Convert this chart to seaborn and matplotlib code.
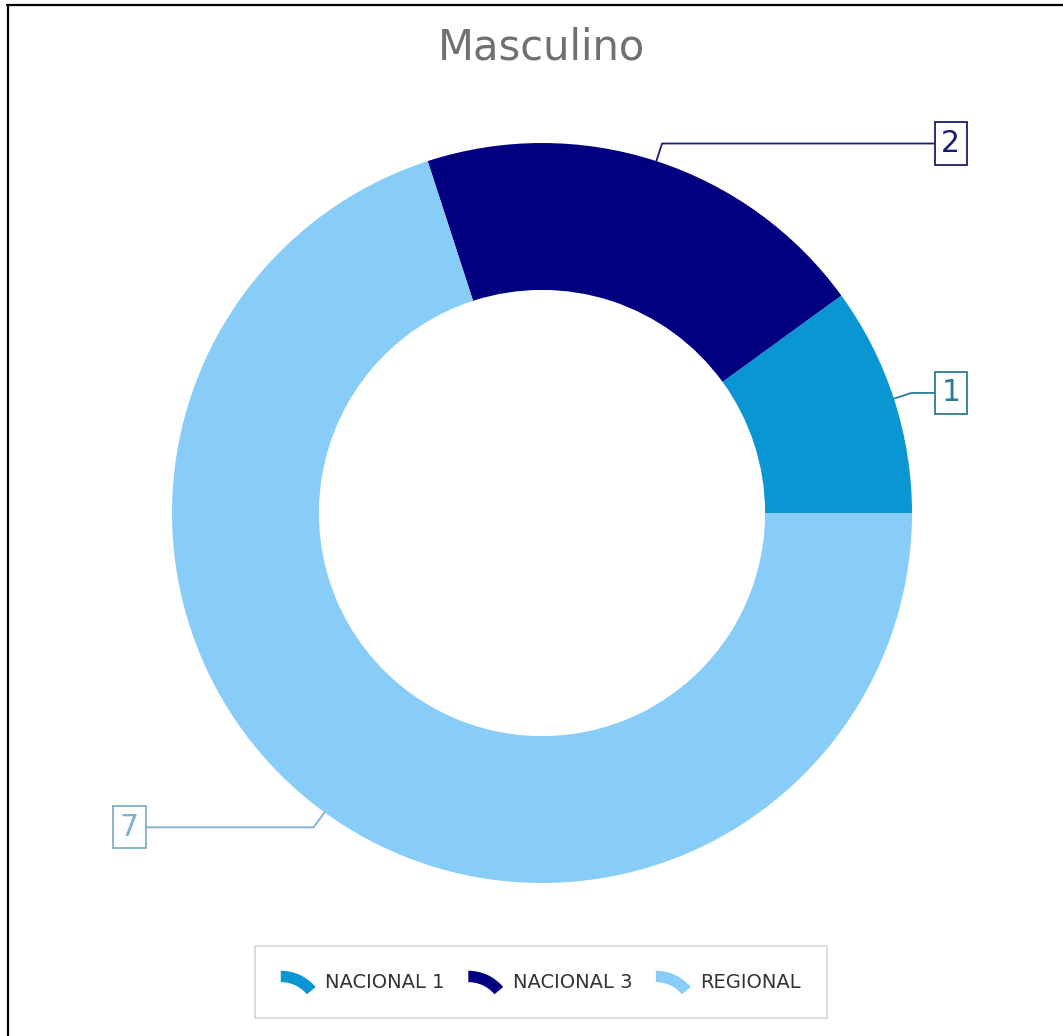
import numpy as np
import matplotlib
matplotlib.use("Agg")
import matplotlib.pyplot as plt
from matplotlib.patches import Wedge
from matplotlib.legend_handler import HandlerPatch
from matplotlib.lines import Line2D
import seaborn as sns

# Data
categories = ["NACIONAL 1", "NACIONAL 3", "REGIONAL"]
values = [1, 2, 7]
slice_colors = ["#0996D3", "#000080", "#87CDF8"]
label_colors = ["#2E7A98", "#1C1C6E", "#7FB0CC"]
title = "Masculino"

sns.set_theme(style="white")
plt.rcParams["font.family"] = ["DejaVu Sans"]

W, H = 1063, 1036
fig = plt.figure(figsize=(W / 100, H / 100), dpi=100)
fig.patch.set_facecolor("white")

# Donut axes: centre (542, 513) px from top-left, radius 370 px
cx, cy, R = 542, 513, 370
ax = fig.add_axes([(cx - R) / W, (H - cy - R) / H, 2 * R / W, 2 * R / H])
ax.set_facecolor("none")

wedges, _ = ax.pie(values, colors=slice_colors, startangle=0, counterclock=True,
                   radius=1.0, wedgeprops=dict(width=0.397, edgecolor="none"))
ax.set_xlim(-1, 1)
ax.set_ylim(-1, 1)
ax.axis("off")

# Callout labels with boxed values
for w, v, lc in zip(wedges, values, label_colors):
    ang = np.deg2rad((w.theta1 + w.theta2) / 2)
    x, y = np.cos(ang), np.sin(ang)
    side = 1 if x >= 0 else -1
    tx = side * 1.105 - (0.01 if side < 0 else 0)
    ty = 1.05 * y
    ax.annotate(str(v), xy=(x, y), xytext=(tx, ty),
                ha="center", va="center", fontsize=21.5, color=lc,
                bbox=dict(boxstyle="square,pad=0.22", fc="white", ec=lc, lw=1.3),
                arrowprops=dict(arrowstyle="-", color=lc, lw=1.3, shrinkA=0, shrinkB=0,
                                connectionstyle=f"angle,angleA=0,angleB={np.rad2deg(ang):.1f}"),
                annotation_clip=False)

fig.text(542 / W, 1 - 47 / H, title, ha="center", va="center",
         fontsize=30, color="#707070")


class ArcHandler(HandlerPatch):
    """Legend key drawn as a thick arc segment of the donut."""
    def create_artists(self, legend, orig_handle, xdescent, ydescent, width, height,
                       fontsize, trans):
        r = width * 1.3
        top = -ydescent + height * 1.05
        center = (-xdescent, top - r)
        p = Wedge(center, r, 40, 90, width=r * 0.25,
                  facecolor=orig_handle.get_facecolor(), edgecolor="none")
        p.set_transform(trans)
        return [p]


handles = [Wedge((0, 0), 1, 0, 90, facecolor=c) for c in slice_colors]
leg = fig.legend(handles, categories, loc="center", bbox_to_anchor=(541 / W, 1 - 982 / H),
                 ncol=3, frameon=True, fancybox=False, fontsize=14,
                 handler_map={Wedge: ArcHandler()}, handlelength=1.8, handleheight=1.2,
                 handletextpad=0.5, columnspacing=1.2, borderpad=1.3,
                 labelcolor="#333333")
leg.get_frame().set_edgecolor("#CCCCCC")
leg.get_frame().set_linewidth(1.2)

# Outer frame lines along top and left edges
fig.add_artist(Line2D([7 / W, 1], [1 - 5 / H, 1 - 5 / H], transform=fig.transFigure,
                      color="black", lw=1.6))
fig.add_artist(Line2D([7.5 / W, 7.5 / W], [0, 1 - 5 / H], transform=fig.transFigure,
                      color="black", lw=1.6))

fig.savefig("out.png", dpi=100, facecolor="white")
